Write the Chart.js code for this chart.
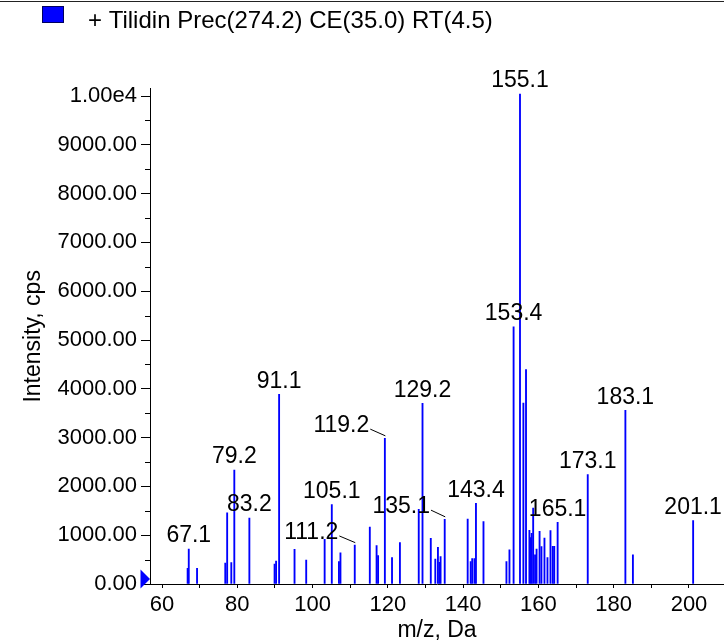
<!DOCTYPE html>
<html>
<head>
<meta charset="utf-8">
<script src="https://cdn.jsdelivr.net/npm/chart.js@4.4.1/dist/chart.umd.min.js"></script>
<style>
  html, body { margin: 0; padding: 0; background: #fff; }
  #wrap { width: 724px; height: 641px; position: relative; }
</style>
</head>
<body>
<div id="wrap"><canvas id="spectrumChart"></canvas></div>
<script>
// spectrum
const seriesLabel = '+ Tilidin Prec(274.2) CE(35.0) RT(4.5)';
const mz = [
  66.8, 67.1, 69.3, 76.8, 77.3, 78.4, 79.2, 83.2, 89.9, 90.3,
  91.1, 95.2, 98.3, 103.2, 105.1, 107.0, 107.4, 111.2, 115.2, 117.0,
  117.4, 119.2, 121.1, 123.2, 128.2, 129.2, 131.4, 132.6, 133.3, 133.7,
  134.0, 135.1, 141.2, 142.0, 142.4, 143.0, 143.4, 145.4, 151.5, 152.3,
  153.4, 155.1, 156.0, 156.7, 157.6, 157.9, 158.2, 158.6, 159.1, 159.5,
  160.3, 160.8, 161.6, 162.4, 163.2, 163.8, 164.2, 165.1, 173.1, 183.1,
  185.1, 201.1
];
const intensity = [
  322, 717, 322, 430, 1461, 437, 2336, 1350, 410, 470,
  3887, 711, 492, 916, 1630, 457, 641, 796, 1168, 785,
  580, 2985, 540, 847, 1530, 3702, 936, 512, 751, 444,
  560, 1325, 1332, 457, 519, 519, 1653, 1277, 460, 700,
  5270, 10040, 3709, 4393, 1100, 950, 1038, 1555, 600, 715,
  1080, 766, 940, 540, 1095, 772, 772, 1265, 2240, 3560,
  600, 1300
];
const peakLabels = ['67.1', '79.2', '83.2', '91.1', '105.1', '111.2', '119.2', '129.2',
  '135.1', '143.4', '153.4', '155.1', '165.1', '173.1', '183.1', '201.1'];
const calloutLabels = ['111.2', '119.2', '135.1'];
const xTicks = [60, 70, 80, 90, 100, 110, 120, 130, 140, 150, 160, 170, 180, 190, 200];
const yTicks = [0, 1000, 2000, 3000, 4000, 5000, 6000, 7000, 8000, 9000, 10000];
const yMinorTicks = [500, 1500, 2500, 3500, 4500, 5500, 6500, 7500, 8500, 9500];

const FONT = 'Liberation Sans, Arial, sans-serif';
const BLUE = '#0000ff';

const formatY = (v) => (v >= 10000 ? '1.00e4' : v.toFixed(2));

const spectrumDecor = {
  id: 'spectrumDecor',
  afterDatasetsDraw(chart) {
    const { ctx } = chart;
    const x = chart.scales.x;
    const y = chart.scales.y;

    ctx.save();
    // minor ticks on y
    ctx.strokeStyle = '#000';
    ctx.lineWidth = 1;
    ctx.beginPath();
    yMinorTicks.forEach((v) => {
      const py = Math.round(y.getPixelForValue(v)) + 0.5;
      ctx.moveTo(x.left - 5, py);
      ctx.lineTo(x.left, py);
    });
    ctx.stroke();

    // zero marker
    const y0 = y.getPixelForValue(0);
    ctx.fillStyle = BLUE;
    ctx.beginPath();
    ctx.moveTo(x.left - 9.5, y0 - 14.5);
    ctx.lineTo(x.left - 9.5, y0 + 4.5);
    ctx.lineTo(x.left, y0 - 5);
    ctx.closePath();
    ctx.fill();

    // peak labels
    ctx.font = '23px ' + FONT;
    ctx.fillStyle = '#000';
    ctx.textBaseline = 'middle';
    ctx.textAlign = 'center';
    peakLabels.forEach((lbl) => {
      const i = mz.indexOf(parseFloat(lbl));
      if (i < 0) return;
      const px = x.getPixelForValue(mz[i]);
      const top = y.getPixelForValue(intensity[i]);
      if (calloutLabels.includes(lbl)) {
        const tx = px - 43.5;
        const ty = top - 12.7;
        ctx.fillText(lbl, tx, ty);
        const w = ctx.measureText(lbl).width;
        ctx.beginPath();
        ctx.moveTo(tx + w / 2 + 1, ty + 3.5);
        ctx.lineTo(px + 0.5, top - 2.5);
        ctx.stroke();
      } else {
        ctx.fillText(lbl, px, top - 13);
      }
    });
    ctx.restore();
  },
  afterDraw(chart) {
    const { ctx, width } = chart;
    ctx.save();
    // frame line at the very top
    ctx.strokeStyle = '#222';
    ctx.lineWidth = 1;
    ctx.beginPath();
    ctx.moveTo(0, 1.5);
    ctx.lineTo(width, 1.5);
    ctx.stroke();

    // legend
    ctx.fillStyle = BLUE;
    ctx.fillRect(42, 6, 22, 17);
    ctx.strokeStyle = '#000060';
    ctx.strokeRect(42.5, 6.5, 21, 16);
    ctx.fillStyle = '#000';
    ctx.font = '24px ' + FONT;
    ctx.textBaseline = 'middle';
    ctx.textAlign = 'left';
    ctx.fillText(chart.data.datasets[0].label, 88, 21);
    ctx.restore();
  }
};

const ctx = document.getElementById('spectrumChart').getContext('2d');
const spectrumChart = new Chart(ctx, {
  type: 'bar',
  data: {
    datasets: [{
      label: seriesLabel,
      data: mz.map((m, i) => ({ x: m, y: intensity[i] })),
      backgroundColor: BLUE,
      borderWidth: 0,
      barThickness: 1.2,
    }],
  },
  options: {
    responsive: true,
    maintainAspectRatio: false,
    animation: false,
    layout: { padding: { top: 88.7, right: 0, bottom: 0, left: 0 } },
    plugins: {
      legend: { display: false },
      tooltip: { enabled: false },
    },
    scales: {
      x: {
        type: 'linear',
        offset: false,
        min: 56.8,
        max: 209.3,
        afterBuildTicks: (s) => { s.ticks = xTicks.map((v) => ({ value: v })); },
        afterFit: (s) => { s.height = 57; },
        border: { color: '#000', width: 1 },
        grid: {
          offset: false,
          drawOnChartArea: false,
          tickLength: 4,
          tickColor: '#000',
        },
        ticks: {
          autoSkip: false,
          maxRotation: 0,
          padding: 4,
          color: '#000',
          font: { family: FONT, size: 22 },
          callback: (v) => (v % 20 === 0 ? String(v) : ''),
        },
        title: {
          display: true,
          text: 'm/z, Da',
          color: '#000',
          font: { family: FONT, size: 23, lineHeight: 0.9 },
          padding: { top: 0, bottom: 0 },
        },
      },
      y: {
        min: 0,
        max: 10150,
        afterBuildTicks: (s) => { s.ticks = yTicks.map((v) => ({ value: v })); },
        afterFit: (s) => { s.width = 150; },
        border: { color: '#000', width: 1 },
        grid: {
          drawOnChartArea: false,
          tickLength: 9,
          tickColor: '#000',
        },
        ticks: {
          autoSkip: false,
          padding: 4,
          color: '#000',
          font: { family: FONT, size: 22 },
          callback: formatY,
        },
        title: {
          display: true,
          text: 'Intensity, cps',
          color: '#000',
          font: { family: FONT, size: 23, lineHeight: 1.2 },
          padding: { top: 20, bottom: 0 },
        },
      },
    },
  },
  plugins: [spectrumDecor],
});
</script>
</body>
</html>
